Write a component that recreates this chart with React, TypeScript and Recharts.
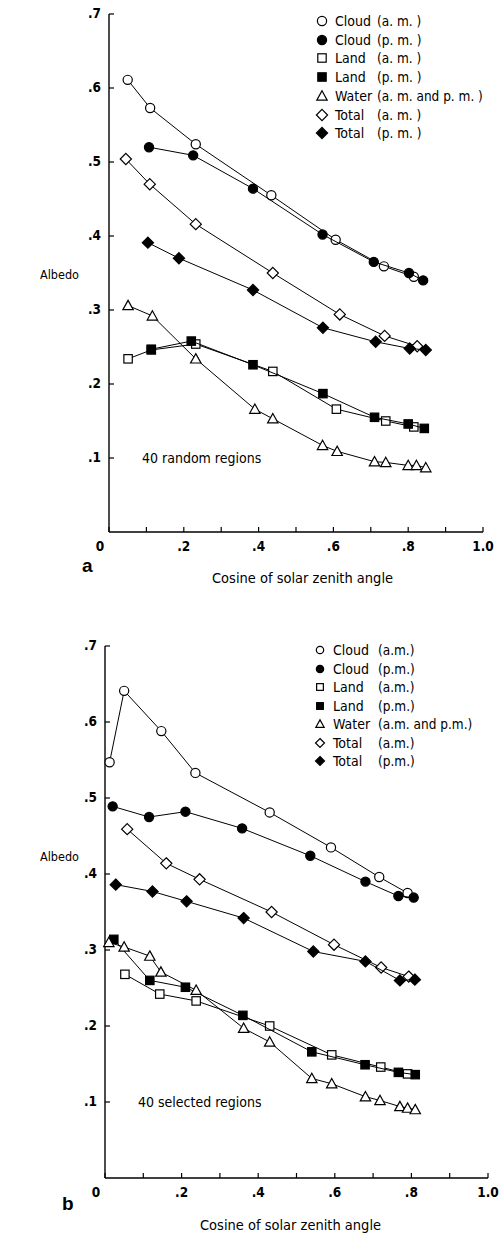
import React from "react";
import { ScatterChart, Scatter, XAxis, YAxis } from "recharts";

// x ticks every .1, labels only on the even ones
const xTicks = [0, 0.1, 0.2, 0.3, 0.4, 0.5, 0.6, 0.7, 0.8, 0.9, 1.0];
const xTickLabels = ["0", "", ".2", "", ".4", "", ".6", "", ".8", "", "1.0"];
const yTicks = [0.1, 0.2, 0.3, 0.4, 0.5, 0.6, 0.7];
const yTickLabels = [".1", ".2", ".3", ".4", ".5", ".6", ".7"];

const seriesNames = ["Cloud", "Cloud", "Land", "Land", "Water", "Total", "Total"];
const parensA = ["(a. m. )", "(p. m. )", "(a. m. )", "(p. m. )", "(a. m.  and p. m. )", "(a. m. )", "(p. m. )"];
const parensB = ["(a.m.)", "(p.m.)", "(a.m.)", "(p.m.)", "(a.m. and p.m.)", "(a.m.)", "(p.m.)"];

// (a) 40 random regions
const aCloudAmX = [0.05, 0.11, 0.232, 0.434, 0.606, 0.735, 0.815];
const aCloudAmY = [0.611, 0.573, 0.524, 0.455, 0.395, 0.359, 0.345];
const aCloudPmX = [0.107, 0.225, 0.385, 0.571, 0.708, 0.802, 0.84];
const aCloudPmY = [0.52, 0.509, 0.464, 0.402, 0.365, 0.35, 0.34];
const aLandAmX = [0.051, 0.113, 0.232, 0.438, 0.608, 0.74, 0.815];
const aLandAmY = [0.234, 0.246, 0.254, 0.217, 0.166, 0.15, 0.142];
const aLandPmX = [0.113, 0.22, 0.385, 0.572, 0.71, 0.8, 0.843];
const aLandPmY = [0.247, 0.258, 0.226, 0.187, 0.155, 0.146, 0.14];
const aWaterX = [0.051, 0.116, 0.232, 0.39, 0.438, 0.571, 0.61, 0.71, 0.74, 0.8, 0.822, 0.847];
const aWaterY = [0.306, 0.292, 0.234, 0.166, 0.153, 0.117, 0.109, 0.095, 0.094, 0.09, 0.09, 0.087];
const aTotalAmX = [0.045, 0.109, 0.232, 0.438, 0.617, 0.737, 0.824];
const aTotalAmY = [0.504, 0.47, 0.416, 0.35, 0.294, 0.265, 0.251];
const aTotalPmX = [0.104, 0.187, 0.385, 0.572, 0.713, 0.804, 0.847];
const aTotalPmY = [0.391, 0.37, 0.327, 0.276, 0.257, 0.248, 0.246];

// (b) 40 selected regions
const bCloudAmX = [0.012, 0.05, 0.147, 0.236, 0.43, 0.59, 0.716, 0.79];
const bCloudAmY = [0.547, 0.641, 0.588, 0.533, 0.481, 0.435, 0.396, 0.375];
const bCloudPmX = [0.02, 0.115, 0.21, 0.358, 0.536, 0.68, 0.766, 0.806];
const bCloudPmY = [0.489, 0.475, 0.482, 0.46, 0.424, 0.39, 0.371, 0.369];
const bLandAmX = [0.052, 0.143, 0.238, 0.43, 0.592, 0.72, 0.79];
const bLandAmY = [0.268, 0.242, 0.233, 0.2, 0.162, 0.146, 0.137];
const bLandPmX = [0.023, 0.117, 0.21, 0.36, 0.54, 0.679, 0.766, 0.81];
const bLandPmY = [0.314, 0.26, 0.251, 0.214, 0.166, 0.149, 0.139, 0.136];
const bWaterX = [0.01, 0.05, 0.117, 0.146, 0.238, 0.362, 0.43, 0.54, 0.592, 0.68, 0.718, 0.77, 0.79, 0.81];
const bWaterY = [0.31, 0.304, 0.292, 0.271, 0.247, 0.197, 0.179, 0.131, 0.124, 0.107, 0.102, 0.094, 0.092, 0.09];
const bTotalAmX = [0.058, 0.16, 0.247, 0.435, 0.598, 0.721, 0.793];
const bTotalAmY = [0.459, 0.414, 0.393, 0.35, 0.307, 0.277, 0.265];
const bTotalPmX = [0.028, 0.124, 0.213, 0.362, 0.544, 0.68, 0.77, 0.809];
const bTotalPmY = [0.386, 0.377, 0.364, 0.342, 0.298, 0.285, 0.26, 0.261];

const FONT = '"DejaVu Sans Condensed", "Liberation Sans Narrow", "DejaVu Sans", sans-serif';

const zip = (xs: number[], ys: number[]) => xs.map((x, i) => ({ x, y: ys[i] }));

type Kind = "circle" | "square" | "triangle" | "diamond";
const kinds: Kind[] = ["circle", "circle", "square", "square", "triangle", "diamond", "diamond"];
const fills = [false, true, false, true, false, false, true];

function Marker({ kind, filled, cx, cy, s = 1 }: { kind: Kind; filled: boolean; cx: number; cy: number; s?: number }) {
  const fill = filled ? "#000" : "#fff";
  const common = { fill, stroke: "#000", strokeWidth: 1.2 };
  if (kind === "circle") return <circle cx={cx} cy={cy} r={4.6 * s} {...common} />;
  if (kind === "square") {
    const h = 4.2 * s;
    return <rect x={cx - h} y={cy - h} width={2 * h} height={2 * h} {...common} />;
  }
  if (kind === "triangle") {
    const h = 5.2 * s;
    return <polygon points={`${cx},${cy - h} ${cx + h},${cy + h * 0.8} ${cx - h},${cy + h * 0.8}`} {...common} />;
  }
  const d = 5.6 * s;
  return <polygon points={`${cx},${cy - d} ${cx + d},${cy} ${cx},${cy + d} ${cx - d},${cy}`} {...common} />;
}

const XTick = (props: any) => {
  const { x, y, payload } = props;
  const i = Math.round(payload.value * 10);
  const label = xTickLabels[i];
  return (
    <g>
      <line x1={x} x2={x} y1={y} y2={y - 5} stroke="#000" strokeWidth={1.2} />
      {label && (
        <text x={x + (i === 0 ? -9 : 0)} y={y + 19} textAnchor="middle" fontFamily={FONT} fontWeight="bold" fontSize={13.5} fill="#000">
          {label}
        </text>
      )}
    </g>
  );
};

const YTick = (props: any) => {
  const { x, y, payload } = props;
  const i = Math.round(payload.value * 10) - 1;
  return (
    <g>
      <line x1={x} x2={x + 5} y1={y} y2={y} stroke="#000" strokeWidth={1.2} />
      <text x={x - 8} y={y + 4} textAnchor="end" fontFamily={FONT} fontWeight="bold" fontSize={13.5} fill="#000">
        {yTickLabels[i]}
      </text>
    </g>
  );
};

function Panel({ series, width, height, margin }: { series: { x: number; y: number }[][]; width: number; height: number; margin: any }) {
  return (
    <ScatterChart width={width} height={height} margin={margin}>
      <XAxis
        type="number"
        dataKey="x"
        domain={[0, 1]}
        ticks={xTicks}
        interval={0}
        height={30}
        tickSize={0}
        tickMargin={0}
        tick={<XTick />}
        axisLine={{ stroke: "#000", strokeWidth: 1.4 }}
        tickLine={false}
      />
      <YAxis
        type="number"
        dataKey="y"
        domain={[0, 0.7]}
        ticks={yTicks}
        interval={0}
        width={50}
        tickSize={0}
        tickMargin={0}
        tick={<YTick />}
        axisLine={{ stroke: "#000", strokeWidth: 1.4 }}
        tickLine={false}
      />
      {series.map((data, i) => (
        <Scatter
          key={i}
          data={data}
          isAnimationActive={false}
          line={{ stroke: "#000", strokeWidth: 1 }}
          shape={(p: any) => <Marker kind={kinds[i]} filled={fills[i]} cx={p.cx} cy={p.cy} />}
        />
      ))}
    </ScatterChart>
  );
}

function Legend({ top, left, parens, rowGap, s, parenLeft }: { top: number; left: number; parens: string[]; rowGap: number; s: number; parenLeft: number }) {
  return (
    <>
      {seriesNames.map((name, i) => (
        <div
          key={i}
          style={{ position: "absolute", top: top + i * rowGap - 9, left: left - 9, height: 18, display: "flex", alignItems: "center", fontFamily: FONT, fontSize: 14, whiteSpace: "nowrap" }}
        >
          <svg width={18} height={18} style={{ flex: "none" }}>
            <Marker kind={kinds[i]} filled={fills[i]} cx={9} cy={9} s={s} />
          </svg>
          <span style={{ position: "absolute", left: 22 }}>{name}</span>
          <span style={{ position: "absolute", left: parenLeft, fontSize: 13.5 }}>{parens[i]}</span>
        </div>
      ))}
    </>
  );
}

const abs = (top: number, left: number, extra: React.CSSProperties = {}): React.CSSProperties => ({
  position: "absolute",
  top,
  left,
  fontFamily: FONT,
  whiteSpace: "nowrap",
  lineHeight: 1,
  ...extra,
});

export default function App() {
  const seriesA = [
    zip(aCloudAmX, aCloudAmY),
    zip(aCloudPmX, aCloudPmY),
    zip(aLandAmX, aLandAmY),
    zip(aLandPmX, aLandPmY),
    zip(aWaterX, aWaterY),
    zip(aTotalAmX, aTotalAmY),
    zip(aTotalPmX, aTotalPmY),
  ];
  const seriesB = [
    zip(bCloudAmX, bCloudAmY),
    zip(bCloudPmX, bCloudPmY),
    zip(bLandAmX, bLandAmY),
    zip(bLandPmX, bLandPmY),
    zip(bWaterX, bWaterY),
    zip(bTotalAmX, bTotalAmY),
    zip(bTotalPmX, bTotalPmY),
  ];

  return (
    <div style={{ position: "absolute", top: 0, left: 0, width: 501, height: 1236, background: "#fff", overflow: "hidden" }}>
      <div style={{ position: "absolute", top: 0, left: 0 }}>
        <Panel series={seriesA} width={501} height={600} margin={{ top: 14, right: 18, left: 59, bottom: 38 }} />
      </div>
      <div style={{ position: "absolute", top: 600, left: 0 }}>
        <Panel series={seriesB} width={501} height={636} margin={{ top: 46, right: 13, left: 55, bottom: 28 }} />
      </div>

      <Legend top={21} left={322} parens={parensA} rowGap={18.7} s={1} parenLeft={64} />
      <Legend top={650} left={320} parens={parensB} rowGap={18.5} s={0.8} parenLeft={67} />

      <div style={abs(269, 40, { fontSize: 12.5 })}>Albedo</div>
      <div style={abs(851, 40, { fontSize: 12.5 })}>Albedo</div>

      <div style={abs(451, 142, { fontSize: 14 })}>40 random regions</div>
      <div style={abs(1095, 138, { fontSize: 14 })}>40 selected regions</div>

      <div style={abs(556, 82, { fontSize: 19, fontWeight: "bold", fontFamily: "Liberation Sans, Arial, sans-serif" })}>a</div>
      <div style={abs(1194, 62, { fontSize: 19, fontWeight: "bold", fontFamily: "Liberation Sans, Arial, sans-serif" })}>b</div>

      <div style={abs(571, 212, { fontSize: 14.5 })}>Cosine of solar zenith angle</div>
      <div style={abs(1218, 200, { fontSize: 14.5 })}>Cosine of solar zenith angle</div>
    </div>
  );
}
